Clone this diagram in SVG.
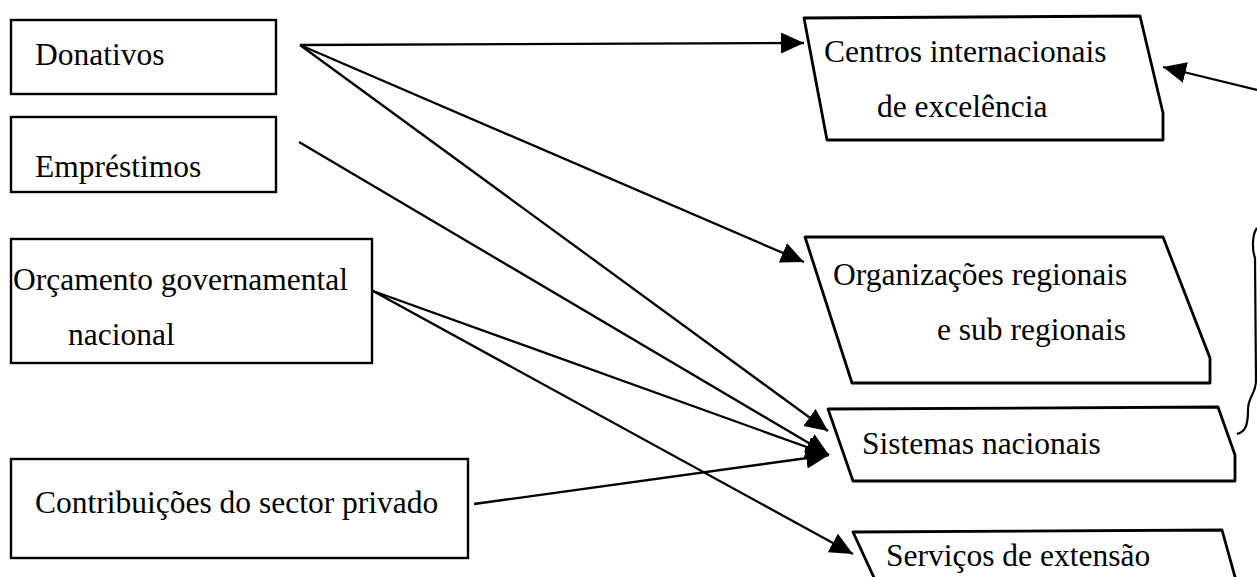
<svg xmlns="http://www.w3.org/2000/svg" width="1257" height="577" viewBox="0 0 1257 577">
<style>
  .box { fill: #fff; stroke: #000; stroke-width: 2.4; }
  .shape { fill: #fff; stroke: #000; stroke-width: 2.8; stroke-linejoin: round; }
  .lbl { font-family: "Liberation Serif", "Times New Roman", serif; font-size: 31.5px; fill: #000; }
  .conn { fill: none; stroke: #000; stroke-width: 2.3; marker-end: url(#arrow); }
  .plain { fill: none; stroke: #000; stroke-width: 2.2; }
</style>
<defs>
  <marker id="arrow" markerUnits="userSpaceOnUse" markerWidth="24" markerHeight="22" refX="23" refY="10.5" orient="auto">
    <path d="M0,0 L23,10.5 L0,21 z" fill="#000"/>
  </marker>
</defs>
<rect width="1257" height="577" fill="#fff"/>

<g id="donativos">
  <rect class="box" x="11" y="20" width="265" height="74"/>
  <text class="lbl" x="35" y="65">Donativos</text>
</g>
<g id="emprestimos">
  <rect class="box" x="11" y="117" width="265" height="75"/>
  <text class="lbl" x="35" y="177">Empréstimos</text>
</g>
<g id="orcamento">
  <rect class="box" x="11" y="239" width="361" height="124"/>
  <text class="lbl" x="13" y="290">Orçamento governamental</text>
  <text class="lbl" x="68" y="345">nacional</text>
</g>
<g id="contribuicoes">
  <rect class="box" x="11" y="459" width="457" height="99"/>
  <text class="lbl" x="35" y="513">Contribuições do sector privado</text>
</g>

<g id="centros">
  <path class="shape" d="M804,18 L1140,16 L1163,113 L1163,140 L827,140 Z"/>
  <text class="lbl" x="824" y="62">Centros internacionais</text>
  <text class="lbl" x="877" y="117">de excelência</text>
</g>
<g id="organizacoes">
  <path class="shape" d="M805,237 L1163,237 L1210,358 L1210,383 L852,383 Z"/>
  <text class="lbl" x="833" y="285">Organizações regionais</text>
  <text class="lbl" x="937" y="340">e sub regionais</text>
</g>
<g id="sistemas">
  <path class="shape" d="M828,409 L1218,407 L1235,455 L1235,481 L853,481 Z"/>
  <text class="lbl" x="862" y="454">Sistemas nacionais</text>
</g>
<g id="servicos">
  <path class="shape" d="M853,532 L1222,530 L1240,595 L882,595 Z"/>
  <text class="lbl" x="886" y="566">Serviços de extensão</text>
</g>

<g id="connectors">
  <line class="conn" x1="300" y1="45" x2="804" y2="43"/>
  <line class="conn" x1="300" y1="45" x2="804" y2="262"/>
  <line class="conn" x1="300" y1="45" x2="828" y2="431"/>
  <line class="conn" x1="299" y1="142" x2="829" y2="455"/>
  <line class="conn" x1="373" y1="291" x2="829" y2="455"/>
  <line class="conn" x1="373" y1="291" x2="853" y2="554"/>
  <line class="conn" x1="474" y1="504" x2="829" y2="455"/>
  <line class="conn" x1="1257" y1="90" x2="1163" y2="67"/>
  <path class="plain" d="M1257,228 C1252,234 1252,250 1255,258 L1256,380 C1256,395 1248,396 1248,410 C1248,426 1245,432 1237,434"/>
</g>
</svg>
